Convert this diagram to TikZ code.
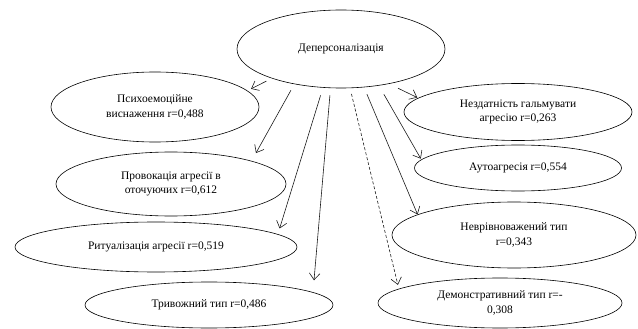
\documentclass[tikz,border=0pt]{standalone}
\usepackage{fontspec}
\setmainfont{Liberation Serif}
\usetikzlibrary{arrows.meta,shapes.geometric}
\definecolor{EllipseLine}{HTML}{000000}
\definecolor{ArrowLine}{HTML}{1A1A1A}

\begin{document}
\begin{tikzpicture}[
  x=1pt,y=-1pt,
  factor/.style={
    ellipse,
    draw=EllipseLine,
    line width=0.6pt,
    fill=white,
    inner sep=0pt,
    align=center,
    font=\fontsize{11.5}{14.5}\selectfont,
    text=black
  },
  link/.style={
    -{Straight Barb[length=6.5pt,width=10.5pt]},
    line width=0.6pt,
    draw=ArrowLine
  },
  weaklink/.style={
    link,
    dash pattern=on 3pt off 2pt
  }
]
\useasboundingbox (0,0) rectangle (638,329);

% -------------------------------------------------
% Central factor
% -------------------------------------------------
\node[factor, minimum width=208, minimum height=78] (dep) at (341,49)
{Деперсоналізація};

% -------------------------------------------------
% Left column
% -------------------------------------------------
\node[factor, minimum width=208, minimum height=70] (psy) at (155,107)
{Психоемоційне\\виснаження r=0,488};

\node[factor, minimum width=230, minimum height=64] (prov) at (171,184)
{Провокація агресії в\\оточуючих r=0,612};

\node[factor, minimum width=282, minimum height=50] (rit) at (156,247)
{Ритуалізація агресії r=0,519};

\node[factor, minimum width=248, minimum height=46] (tryv) at (209,305)
{Тривожний тип r=0,486};

% -------------------------------------------------
% Right column
% -------------------------------------------------
\node[factor, minimum width=228, minimum height=57] (nezd) at (518,112)
{Нездатність гальмувати\\агресію r=0,263};

\node[factor, minimum width=207, minimum height=46] (auto) at (518,168)
{Аутоагресія r=0,554};

\node[factor, minimum width=244, minimum height=66] (nevr) at (514,235)
{Неврівноважений тип\\r=0,343};

\node[factor, minimum width=244, minimum height=50] (dem) at (500,303)
{Демонстративний тип r=-\\0,308};

% -------------------------------------------------
% Links from the central factor
% -------------------------------------------------
\draw[link, shorten <=6pt, shorten >=4pt] (dep.203.6) -- (psy.10);
\draw[link, shorten <=7pt, shorten >=9pt] (dep.217.6) -- (prov.16);
\draw[link, shorten <=8pt, shorten >=6pt] (dep.245.4) -- (rit.6.2);
\draw[link, shorten <=7pt, shorten >=12pt] (dep.255.1) -- (tryv.7.3);

\draw[weaklink, shorten <=6pt, shorten >=4pt] (dep.283.8) -- (dem.172.3);

\draw[link, shorten <=7.5pt] (dep.301.4) -- (nevr.168.8);
\draw[link, shorten <=10pt, shorten >=1pt] (dep.316.4) -- (auto.175);
\draw[link, shorten <=10pt, shorten >=1pt] (dep.324.1) -- (nezd.172.8);

\end{tikzpicture}
\end{document}
